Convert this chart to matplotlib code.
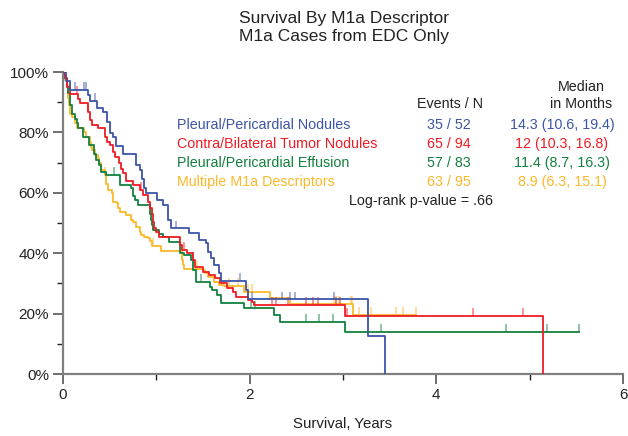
import numpy as np
import matplotlib
matplotlib.use("Agg")
from matplotlib import pyplot as plt

plt.rcParams['font.family'] = ['Liberation Sans', 'DejaVu Sans']

# KM step data: drop times (years) and survival (%) after each drop
groups = ["Pleural/Pericardial Nodules", "Contra/Bilateral Tumor Nodules",
          "Pleural/Pericardial Effusion", "Multiple M1a Descriptors"]
events_n = ["35 / 52", "65 / 94", "57 / 83", "63 / 95"]
medians = ["14.3 (10.6, 19.4)", "12 (10.3, 16.8)", "11.4 (8.7, 16.3)", "8.9 (6.3, 15.1)"]
colors = ["#3d55a8", "#ee1c25", "#13803f", "#fbb829"]

blue_t = [0.03, 0.07, 0.27, 0.29, 0.36, 0.43, 0.47, 0.50, 0.54, 0.57, 0.64, 0.78, 0.82, 0.85,
          0.87, 0.89, 1.01, 1.07, 1.12, 1.16, 1.35, 1.46, 1.53, 1.55, 1.59, 1.62, 1.67, 1.69,
          1.96, 1.98, 3.27, 3.45]
blue_s = [97, 94, 92.4, 90.4, 88.2, 86.9, 83.5, 79.7, 78.6, 75.6, 73, 69.2, 67.5, 64.5,
          61.5, 59.8, 57.6, 56.0, 51.0, 48.2, 46.6, 44.4, 43.3, 40.5, 38.3, 36.1, 33.5, 30.8,
          27.8, 24.7, 12.6, 0]
blue_end = 3.45
blue_cens = [0.13, 0.22, 0.25, 0.34, 1.21, 1.9, 2.03, 2.35, 2.43, 2.49, 2.9]

red_t = [0.02, 0.04, 0.07, 0.16, 0.18, 0.27, 0.29, 0.31, 0.38, 0.45, 0.47, 0.50, 0.54, 0.56,
         0.60, 0.62, 0.64, 0.68, 0.75, 0.82, 0.86, 0.91, 0.93, 0.95, 0.96, 0.97, 1.00, 1.03,
         1.25, 1.28, 1.33, 1.39, 1.41, 1.50, 1.56, 1.63, 1.68, 1.76, 1.82, 1.85, 1.98, 2.02,
         2.05, 3.02, 5.14]
red_s = [98, 95, 92.6, 91, 89.6, 86.6, 84, 82.5, 81.3, 78.5, 76.9, 75.8, 73.6, 72,
         70, 68, 66.5, 64, 62.6, 61, 59.3, 57, 55, 53, 50.4, 48.2, 47, 45.3,
         42.7, 41, 40.0, 37.7, 35.5, 33.9, 32.8, 31.7, 30, 28.4, 27.2, 25.6, 24.5, 24.0,
         22.8, 19.2, 0]
red_end = 5.14
red_cens = [0.15, 0.27, 0.84, 1.3, 1.39, 2.24, 2.28, 2.41, 2.6, 2.68, 2.73, 2.92, 2.97,
            3.04, 4.39, 4.93]

green_t = [0.02, 0.04, 0.05, 0.07, 0.08, 0.10, 0.13, 0.15, 0.16, 0.21, 0.28, 0.33, 0.35,
           0.39, 0.41, 0.46, 0.61, 0.73, 0.75, 0.77, 0.80, 0.93, 0.94, 0.95, 0.96, 1.03,
           1.07, 1.14, 1.25, 1.30, 1.37, 1.39, 1.42, 1.43, 1.57, 1.60, 1.65, 1.69, 1.94,
           2.26, 2.33, 3.02]
green_s = [98, 95, 93, 91.8, 89, 86, 84.5, 83, 81.4, 78.6, 75.8, 73, 71,
           69.2, 67, 65.9, 62.6, 61.6, 59, 57.6, 56, 53, 51, 49.5, 47.7, 46.5,
           45.5, 43.8, 40, 39.4, 37.7, 34.4, 31.7, 30.6, 28.9, 27.8, 26.2, 23.6, 21.7,
           19.5, 17.3, 14.0]
green_end = 5.53
green_cens = [0.55, 1.48, 2.01, 2.06, 2.6, 2.74, 2.89, 3.41, 4.75, 5.19, 5.53]

yellow_t = [0.02, 0.04, 0.05, 0.06, 0.08, 0.10, 0.13, 0.15, 0.22, 0.25, 0.29, 0.30, 0.31,
            0.34, 0.38, 0.39, 0.41, 0.45, 0.46, 0.48, 0.52, 0.54, 0.58, 0.59, 0.61, 0.68,
            0.73, 0.75, 0.78, 0.82, 0.84, 0.87, 0.91, 0.93, 0.95, 1.05, 1.27, 1.29, 1.30,
            1.50, 1.52, 1.55, 1.62, 1.67, 1.72, 1.94, 2.22, 2.43, 3.11]
yellow_s = [97.5, 95.7, 91.4, 89, 86, 85, 83, 81.4, 80, 78.6, 76.9, 75.3, 74.2,
            72.5, 71.5, 69.9, 67.5, 66, 63, 61, 60, 57, 56.5, 55, 53.7, 52.6,
            51, 50.4, 48.8, 47, 46, 45.5, 45, 44, 42.5, 40.8, 37.7, 36, 34.9,
            34.4, 33.4, 32.2, 30.6, 29.5, 29.1, 27.2, 25.2, 23.2, 19.5]
yellow_end = 3.78
yellow_cens = [0.45, 0.96, 1.44, 1.78, 1.87, 1.98, 2.03, 2.9, 2.92, 2.96, 3.09, 3.1,
               3.17, 3.3, 3.57, 3.64, 3.78]

curves = [(blue_t, blue_s, blue_end, blue_cens),
          (red_t, red_s, red_end, red_cens),
          (green_t, green_s, green_end, green_cens),
          (yellow_t, yellow_s, yellow_end, yellow_cens)]

fig = plt.figure(figsize=(6.28, 4.36), dpi=100)
ax = fig.add_axes([63/628, 1-374/436, 560/628, 302/436])

def level_at(t, s, x):
    idx = np.searchsorted(t, x, side='right') - 1
    return 100.0 if idx < 0 else s[idx]

# draw in reverse order so blue ends up on top
for (t, s, end, cens), c in reversed(list(zip(curves, colors))):
    xs = [0] + list(t)
    ys = [100] + list(s)
    if end > xs[-1]:
        xs.append(end)
        ys.append(ys[-1])
    ax.plot(xs, ys, drawstyle='steps-post', color=c, lw=1.3, zorder=3)
    lv = [level_at(t, s, x) for x in cens]
    ax.vlines(cens, lv, np.array(lv) + 2.6, color=c, lw=1.2, alpha=0.55, zorder=3)

ax.set_xlim(0, 6)
ax.set_ylim(0, 100)
ax.set_xticks([0, 2, 4, 6])
ax.set_xticks([1, 3, 5], minor=True)
ax.set_yticks([0, 20, 40, 60, 80, 100])
ax.set_yticklabels(["0%", "20%", "40%", "60%", "80%", "100%"])
ax.set_yticks([10, 30, 50, 70, 90], minor=True)
ax.tick_params(axis='both', which='major', length=7, width=1.2, color='#555555',
               labelsize=11, labelcolor='#222222', pad=3)
ax.tick_params(axis='both', which='minor', length=4, width=1.0, color='#222222')
for sp in ['top', 'right']:
    ax.spines[sp].set_visible(False)
for sp in ['left', 'bottom']:
    ax.spines[sp].set_color('#808080')
    ax.spines[sp].set_linewidth(1.6)
ax.set_xlabel("Survival, Years", fontsize=10.8, color='#222222', labelpad=11)

def fx(px):
    return px / 628
def fy(py):
    return 1 - py / 436

fig.text(fx(344), fy(18), "Survival By M1a Descriptor", ha='center', va='center', fontsize=12.5, color='#222222')
fig.text(fx(344), fy(36), "M1a Cases from EDC Only", ha='center', va='center', fontsize=12.5, color='#222222')

fig.text(fx(450), fy(104), "Events / N", ha='center', va='center', fontsize=10.3, color='#222222')
fig.text(fx(581), fy(87), "Median", ha='center', va='center', fontsize=10.3, color='#222222')
fig.text(fx(581), fy(104), "in Months", ha='center', va='center', fontsize=10.3, color='#222222')
for i, (g, en, md, c) in enumerate(zip(groups, events_n, medians, colors)):
    yy = fy(125 + 19 * i)
    fig.text(fx(177), yy, g, ha='left', va='center', fontsize=10.3, color=c)
    fig.text(fx(449), yy, en, ha='center', va='center', fontsize=10.3, color=c)
    fig.text(fx(562), yy, md, ha='center', va='center', fontsize=10.3, color=c)
fig.text(fx(421), fy(201), "Log-rank p-value = .66", ha='center', va='center', fontsize=10.3, color='#222222')

fig.savefig("out.png", dpi=100)
